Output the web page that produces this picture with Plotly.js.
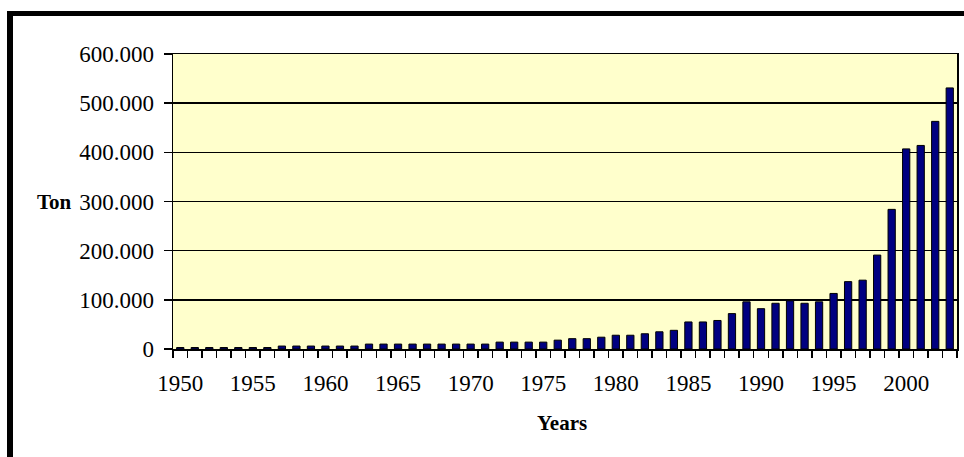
<!DOCTYPE html>
<html>
<head>
<meta charset="utf-8">
<script src="https://cdn.plot.ly/plotly-3.0.1.min.js"></script>
<style>html,body{margin:0;padding:0;background:#fff;}#chart{width:964px;height:457px;}</style>
</head>
<body>
<div id="chart"></div>
<script>
const years = [1950,1951,1952,1953,1954,1955,1956,1957,1958,1959,1960,1961,1962,1963,1964,1965,1966,1967,1968,1969,1970,1971,1972,1973,1974,1975,1976,1977,1978,1979,1980,1981,1982,1983,1984,1985,1986,1987,1988,1989,1990,1991,1992,1993,1994,1995,1996,1997,1998,1999,2000,2001,2002,2003];
const tons = [3000,3000,3000,3000,3000,3000,3000,6000,6000,6000,6000,6000,6000,10000,10000,10000,10000,10000,10000,10000,10000,10000,14000,14000,14000,14000,18000,21000,21000,24000,28000,28000,31000,35000,38000,55000,55000,58000,72000,96000,82000,93000,98000,93000,96000,113000,137000,140000,191000,284000,407000,414000,463000,531000];
const yTicks = [0,100000,200000,300000,400000,500000,600000];
const xTicks = [1950,1955,1960,1965,1970,1975,1980,1985,1990,1995,2000];

const font = 'Liberation Serif, Times New Roman, serif';
const L = 173, R = 7, T = 54, B = 108, W = 964, H = 457;
const pw = W - L - R, ph = H - T - B;
const px = x => (x - L) / pw;
const py = y => 1 - (y - T) / ph;

const trace = {
  type: 'bar', x: years, y: tons,
  marker: {color: '#000080', line: {color: '#000000', width: 1}},
  width: 0.5, hoverinfo: 'x+y'
};

const layout = {
  width: W, height: H,
  margin: {l: L, r: R, t: T, b: B, pad: 0},
  paper_bgcolor: '#ffffff', plot_bgcolor: '#FFFFCC',
  separators: ',.',
  showlegend: false,
  font: {family: font, size: 23, color: '#000'},
  xaxis: {
    type: 'linear', range: [1949.5, 2003.5],
    tickmode: 'array', tickvals: xTicks, ticktext: xTicks.map(String),
    ticks: 'outside', ticklen: 13, tickcolor: 'rgba(0,0,0,0)',
    showgrid: false, zeroline: false,
    showline: true, linecolor: '#000', linewidth: 1.5, mirror: true,
    tickfont: {family: font, size: 23, color: '#000'},
    minor: {tick0: 1949.5, dtick: 1, ticks: 'outside', ticklen: 7, tickcolor: '#000', tickwidth: 1.5, showgrid: false}
  },
  yaxis: {
    range: [0, 600000], tickmode: 'array', tickvals: yTicks,
    tickformat: ',d',
    ticks: 'outside', ticklen: 8, tickcolor: '#000', tickwidth: 1.5,
    ticklabelstandoff: 5,
    showgrid: true, gridcolor: '#000', gridwidth: 1.5,
    zeroline: false,
    showline: true, linecolor: '#000', linewidth: 1.5, mirror: true,
    tickfont: {family: font, size: 23, color: '#000'}
  },
  annotations: [
    {text: '<b>Ton</b>', xref: 'paper', yref: 'y', x: px(54), y: 300000, xanchor: 'center', yanchor: 'middle', showarrow: false, font: {family: font, size: 21, color: '#000'}},
    {text: '<b>Years</b>', xref: 'paper', yref: 'paper', x: px(562), y: py(423), xanchor: 'center', yanchor: 'middle', showarrow: false, font: {family: font, size: 21, color: '#000'}}
  ],
  shapes: [
    {type: 'rect', xref: 'paper', yref: 'paper', x0: px(7), x1: px(13), y0: py(475), y1: py(11), fillcolor: '#000', line: {width: 0}, layer: 'above'},
    {type: 'rect', xref: 'paper', yref: 'paper', x0: px(7), x1: px(985), y0: py(16), y1: py(11), fillcolor: '#000', line: {width: 0}, layer: 'above'}
  ]
};

Plotly.newPlot('chart', [trace], layout, {displayModeBar: false, staticPlot: true});
</script>
</body>
</html>
